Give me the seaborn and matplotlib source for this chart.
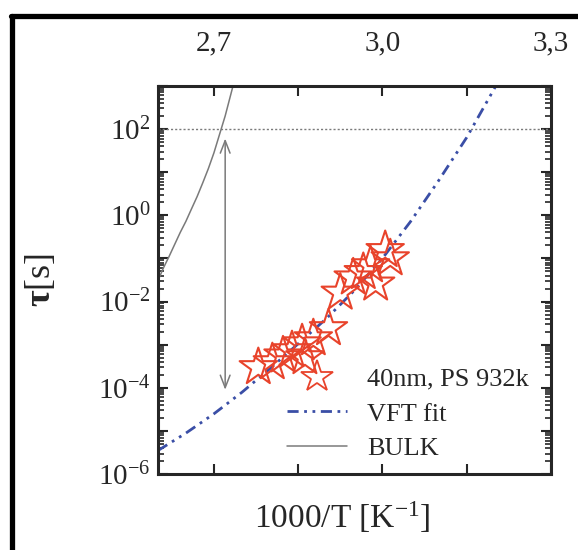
import numpy as np
import pandas as pd
import seaborn as sns
import matplotlib.pyplot as plt
from matplotlib.lines import Line2D
from matplotlib.ticker import LogLocator, FixedLocator, NullFormatter, FuncFormatter

# 40nm film, PS 932k
star_x = [2.779, 2.804, 2.823, 2.839, 2.862, 2.857, 2.877, 2.904,
          2.925, 2.948, 2.966, 2.979, 2.988, 3.005, 3.014]
star_tau = [3.0e-4, 3.9e-4, 5.6e-4, 7.4e-4, 5.1e-4, 1.07e-3, 1.4e-3, 2.4e-3,
            1.6e-2, 3.6e-2, 4.8e-2, 6.9e-2, 2.6e-2, 1.55e-1, 1.0e-1]

# VFT fit curve, points along the drawn line
vft_x = [2.60, 2.65, 2.70, 2.75, 2.80, 2.85, 2.90, 2.95, 3.00, 3.05, 3.10, 3.15, 3.20, 3.21]
vft_tau = [3.5e-6, 8.9e-6, 2.5e-5, 7.9e-5, 2.8e-4, 1.05e-3, 4.0e-3, 1.8e-2,
           1.0e-1, 7.1e-1, 6.3, 63, 890, 1600]

# bulk curve
bulk_x = [2.600, 2.610, 2.620, 2.630, 2.640, 2.650, 2.660, 2.670, 2.680,
          2.690, 2.700, 2.710, 2.720, 2.730, 2.740]
bulk_tau = [3.0e-2, 6.0e-2, 0.11, 0.21, 0.40, 0.72, 1.4, 2.7, 5.6,
            12, 28, 75, 200, 630, 2000]

tau_ref = 1e2
arrow_x = 2.72
arrow_top, arrow_bottom = 6e1, 9e-5

top_ticks = [2.7, 2.85, 3.0, 3.15, 3.3]
top_labels = ["2,7", "", "3,0", "", "3,3"]

sns.set_style("ticks")
plt.rcParams['font.family'] = ['Liberation Serif', 'DejaVu Serif']
plt.rcParams['mathtext.fontset'] = 'custom'
plt.rcParams['mathtext.rm'] = 'Liberation Serif'
plt.rcParams['mathtext.it'] = 'Liberation Serif:italic'
plt.rcParams['mathtext.bf'] = 'Liberation Serif:bold'

fig = plt.figure(figsize=(5.78, 5.5), dpi=100)
ax = fig.add_axes([0.273, 0.138, 0.68, 0.706])

red = "#e8432b"
blue = "#3a4ea6"
grey = "#7a7a7a"

df_vft = pd.DataFrame({"x": vft_x, "tau": vft_tau})
df_bulk = pd.DataFrame({"x": bulk_x, "tau": bulk_tau})
df_star = pd.DataFrame({"x": star_x, "tau": star_tau})

ax.axhline(tau_ref, color=grey, ls=(0, (1.5, 1.5)), lw=1)
sns.lineplot(data=df_bulk, x="x", y="tau", ax=ax, color=grey, lw=1.1, sort=False)
sns.lineplot(data=df_vft, x="x", y="tau", ax=ax, color=blue, lw=2, sort=False,
             dashes=False)
ax.lines[-1].set_dashes((4, 2, 1, 2, 1, 2))
sns.scatterplot(data=df_star, x="x", y="tau", ax=ax, marker="*", s=800,
                facecolor="none", edgecolor=red, linewidth=1.5, zorder=5)

ax.annotate("", xy=(arrow_x, arrow_bottom), xytext=(arrow_x, arrow_top),
            arrowprops=dict(arrowstyle="<->,head_length=0.9,head_width=0.35",
                            color=grey, lw=1.1, shrinkA=0, shrinkB=0))

ax.set_yscale("log")
ax.set_xlim(2.6, 3.3)
ax.set_ylim(1e-6, 1e3)

ax.yaxis.set_major_locator(LogLocator(base=10, numticks=20))
ax.yaxis.set_minor_locator(LogLocator(base=10, subs=np.arange(2, 10), numticks=20))
ax.yaxis.set_minor_formatter(NullFormatter())

def ylab(v, pos):
    e = int(round(np.log10(v)))
    return r"$\mathregular{10^{%d}}$" % e if e % 2 == 0 else ""

ax.yaxis.set_major_formatter(FuncFormatter(ylab))
ax.xaxis.set_major_locator(FixedLocator(top_ticks))
ax.set_xticklabels(top_labels)

ax.tick_params(axis="both", which="both", direction="in", top=True, right=True,
               labeltop=True, labelbottom=False, labelsize=21, width=1.5)
ax.tick_params(axis="both", which="major", length=7)
ax.tick_params(axis="y", which="minor", length=4, width=1.2)
ax.tick_params(axis="x", pad=21)
ax.tick_params(axis="y", pad=5)
for s in ax.spines.values():
    s.set_linewidth(2.2)

ax.set_xlabel(r"1000/T [K$\mathregular{^{-1}}$]", fontsize=24)
ax.xaxis.set_label_coords(0.47, -0.066, transform=ax.transAxes)
ax.xaxis.label.set_va("top")
ax.set_ylabel(r"$\mathbf{\tau}$[s]", fontsize=26)
ax.yaxis.set_label_coords(-0.255, 0.5)

handles = [
    Line2D([], [], ls="none", marker="*", markersize=24, markerfacecolor="none",
           markeredgecolor=red, markeredgewidth=1.3),
    Line2D([], [], color=blue, lw=2, dashes=(4, 2, 1, 2, 1, 2)),
    Line2D([], [], color=grey, lw=1.1),
]
ax.legend(handles, ["40nm, PS 932k", "VFT fit", "BULK"], loc="upper left",
          bbox_to_anchor=(0.328, 0.275), borderaxespad=0, borderpad=0,
          frameon=False, fontsize=19, handlelength=2.3, handletextpad=0.75,
          labelspacing=0.43)

# outer frame of the picture
fig.add_artist(Line2D([12.5 / 578, 12.5 / 578], [0, 1 - 15.5 / 550],
                      transform=fig.transFigure, color="black", lw=3.8))
fig.add_artist(Line2D([12.5 / 578 - 0.003, 1], [1 - 15.5 / 550, 1 - 15.5 / 550],
                      transform=fig.transFigure, color="black", lw=3.8))

fig.savefig("out.png", dpi=100)
